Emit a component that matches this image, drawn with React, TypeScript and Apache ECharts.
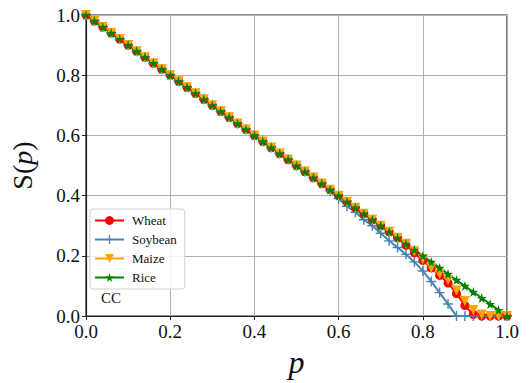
import React, { useEffect, useRef } from "react";
import * as echarts from "echarts";

const P = [0.0, 0.02, 0.04, 0.06, 0.08, 0.1, 0.12, 0.14, 0.16, 0.18, 0.2, 0.22, 0.24, 0.26, 0.28, 0.3, 0.32, 0.34, 0.36, 0.38, 0.4, 0.42, 0.44, 0.46, 0.48, 0.5, 0.52, 0.54, 0.56, 0.58, 0.6, 0.62, 0.64, 0.66, 0.68, 0.7, 0.72, 0.74, 0.76, 0.78, 0.8, 0.82, 0.84, 0.86, 0.88, 0.9, 0.92, 0.94, 0.96, 0.98, 1.0];

const WHEAT = [1.0, 0.98, 0.96, 0.94, 0.92, 0.9, 0.88, 0.86, 0.84, 0.82, 0.8, 0.78, 0.76, 0.74, 0.72, 0.7, 0.68, 0.66, 0.64, 0.62, 0.6, 0.58, 0.56, 0.54, 0.52, 0.5, 0.48, 0.46, 0.44, 0.42, 0.4, 0.38, 0.36, 0.34, 0.32, 0.3, 0.28, 0.26, 0.235, 0.21, 0.185, 0.16, 0.135, 0.11, 0.075, 0.035, 0.005, 0.0, 0.0, 0.0, 0.0];

const SOYBEAN = [1.0, 0.98, 0.96, 0.94, 0.92, 0.9, 0.88, 0.86, 0.84, 0.82, 0.8, 0.78, 0.76, 0.74, 0.72, 0.7, 0.68, 0.66, 0.64, 0.62, 0.6, 0.58, 0.56, 0.54, 0.52, 0.5, 0.48, 0.46, 0.44, 0.415, 0.39, 0.365, 0.345, 0.32, 0.3, 0.275, 0.25, 0.228, 0.205, 0.18, 0.15, 0.115, 0.078, 0.04, 0.0, 0.0, 0.0, 0.0, 0.0, 0.0, 0.0];

const MAIZE = [1.0, 0.98, 0.96, 0.94, 0.92, 0.9, 0.88, 0.86, 0.84, 0.82, 0.8, 0.78, 0.76, 0.74, 0.72, 0.7, 0.68, 0.66, 0.64, 0.62, 0.6, 0.58, 0.56, 0.54, 0.52, 0.5, 0.48, 0.46, 0.44, 0.42, 0.4, 0.38, 0.36, 0.34, 0.32, 0.3, 0.28, 0.26, 0.24, 0.215, 0.19, 0.16, 0.14, 0.12, 0.085, 0.05, 0.02, 0.005, 0.0, 0.0, 0.0];

const RICE = [1.0, 0.98, 0.96, 0.94, 0.92, 0.9, 0.88, 0.86, 0.84, 0.82, 0.8, 0.78, 0.76, 0.74, 0.72, 0.7, 0.68, 0.66, 0.64, 0.62, 0.6, 0.58, 0.56, 0.54, 0.52, 0.5, 0.48, 0.46, 0.44, 0.42, 0.4, 0.38, 0.36, 0.34, 0.32, 0.3, 0.28, 0.26, 0.24, 0.22, 0.2, 0.18, 0.16, 0.14, 0.12, 0.1, 0.08, 0.06, 0.04, 0.02, 0.0];

const SERIES_NAMES = ["Wheat", "Soybean", "Maize", "Rice"];

const PLUS = "path://M0,4.3H10V5.7H0ZM4.3,0H5.7V10H4.3Z";
const STAR = "path://M50,0L61,35H98L68,57L79,91L50,70L21,91L32,57L2,35H39Z";

const SERIF = "Liberation Serif";

function pairs(ys: number[]) {
  return P.map((p, i) => [p, ys[i]]);
}

export default function App() {
  const ref = useRef<HTMLDivElement>(null);
  useEffect(() => {
    document.body.style.margin = "0";
    const chart = echarts.init(ref.current!, undefined, { renderer: "svg" });
    const axisCommon = {
      type: "value" as const,
      min: 0,
      max: 1,
      interval: 0.2,
      axisLine: { show: true, onZero: false, lineStyle: { color: "#222", width: 1.2 } },
      axisTick: { show: true, inside: false, length: 4, lineStyle: { color: "#222" } },
      splitLine: { show: true, lineStyle: { color: "#b0b0b0", width: 1 } },
      axisLabel: {
        color: "#111",
        fontFamily: SERIF,
        fontSize: 19,
        formatter: (v: number) => v.toFixed(1),
      },
    };
    const mk = (name: string, data: number[], color: string, symbol: string, size: number, extra: any = {}) => ({
      name,
      type: "line",
      data: pairs(data),
      symbol,
      symbolSize: size,
      showSymbol: true,
      clip: true,
      lineStyle: { color, width: 2 },
      itemStyle: { color, borderWidth: 0 },
      ...extra,
    });
    chart.setOption({
      animation: false,
      grid: {
        left: 80,
        right: 25,
        top: 15,
        bottom: 65,
        show: true,
        borderColor: "#222",
        borderWidth: 1.2,
        backgroundColor: "transparent",
      },
      xAxis: {
        ...axisCommon,
        axisLabel: { ...axisCommon.axisLabel, margin: 6 },
        name: "p",
        nameLocation: "middle",
        nameGap: 24,
        nameTextStyle: { fontFamily: SERIF, fontStyle: "italic", fontSize: 32, color: "#111" },
      },
      yAxis: {
        ...axisCommon,
        axisLabel: { ...axisCommon.axisLabel, margin: 6 },
        name: "{n|S(}{i|p}{n|)}",
        nameLocation: "middle",
        nameRotate: 90,
        nameGap: 50,
        nameTextStyle: {
          color: "#111",
          fontFamily: SERIF,
          rich: {
            n: { fontFamily: SERIF, fontSize: 28, color: "#111" },
            i: { fontFamily: SERIF, fontSize: 28, fontStyle: "italic", color: "#111" },
          },
        },
      },
      legend: {
        orient: "vertical",
        left: 90,
        top: 209,
        itemWidth: 29,
        itemHeight: 11,
        itemGap: 6,
        padding: [5, 8, 5, 4],
        borderColor: "#d0d0d0",
        borderWidth: 1,
        borderRadius: 3,
        backgroundColor: "rgba(255,255,255,0.85)",
        textStyle: { fontFamily: SERIF, fontSize: 13, lineHeight: 13, color: "#111", padding: [0, 0, 0, 3] },
        data: SERIES_NAMES,
      },
      graphic: [
        {
          type: "text",
          left: 101,
          top: 290,
          style: { text: "CC", fontFamily: SERIF, fontSize: 15, fill: "#111" },
        },
      ],
      series: [
        mk(SERIES_NAMES[0], WHEAT, "#ff0000", "circle", 9),
        mk(SERIES_NAMES[1], SOYBEAN, "#4682b4", PLUS, 10),
        mk(SERIES_NAMES[2], MAIZE, "#ffa500", "triangle", 10, { symbolRotate: 180 }),
        mk(SERIES_NAMES[3], RICE, "#008000", STAR, 10),
      ],
    });
    return () => chart.dispose();
  }, []);
  return <div ref={ref} style={{ width: 532, height: 383 }} />;
}
